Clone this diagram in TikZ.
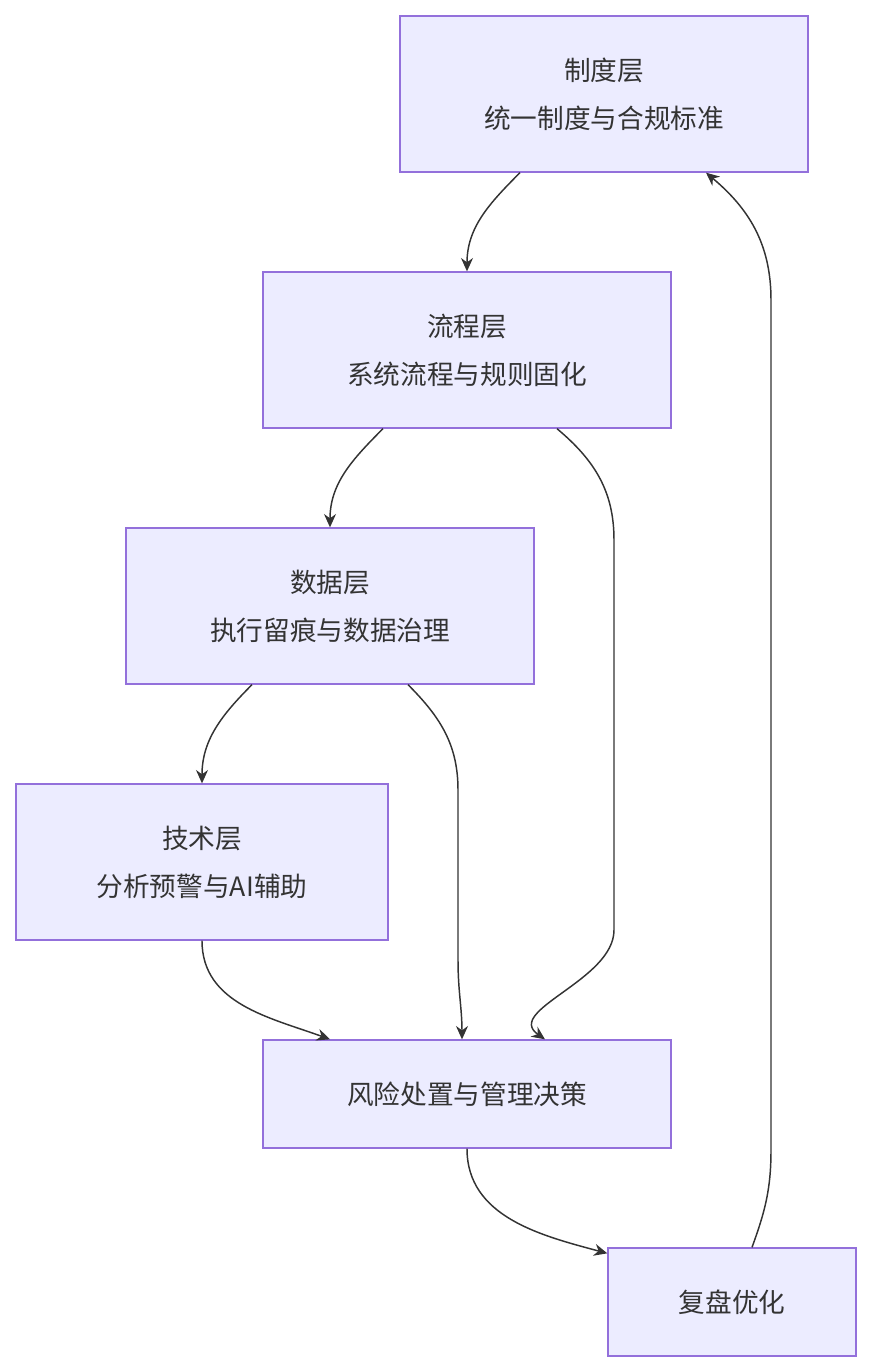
\documentclass[tikz,border=0pt]{standalone}
\usepackage{fontspec}
\setmainfont{Noto Sans CJK SC}
\usetikzlibrary{calc, arrows.meta}
\definecolor{boxfill}{HTML}{ECECFF}
\definecolor{boxline}{HTML}{9370DB}
\definecolor{edgecol}{HTML}{333333}
\tikzset{
	layer/.style = {draw = boxline, fill = boxfill, line width = 1pt, align = center,
		inner sep = 0pt, font = \fontsize{20}{36}\selectfont, text = edgecol},
	flow/.style = {draw = edgecol, line width = 1.1pt, -{Stealth[length = 10pt, width = 9pt]}}
}

\begin{document}
\begin{tikzpicture}[x = 0.75pt, y = -0.75pt]
		\useasboundingbox (0,0) rectangle (871,1372);

		\node [layer, minimum width = 306pt, minimum height = 117pt] (zhidu) at (604,94) {制度层\\统一制度与合规标准};
		\node [layer, minimum width = 306pt, minimum height = 117pt] (liucheng) at (467,350) {流程层\\系统流程与规则固化};
		\node [layer, minimum width = 306pt, minimum height = 117pt] (shuju) at (330,606) {数据层\\执行留痕与数据治理};
		\node [layer, minimum width = 279pt, minimum height = 117pt] (jishu) at (202,862) {技术层\\分析预警与AI辅助};
		\node [layer, minimum width = 306pt, minimum height = 81pt] (juece) at (467,1094) {风险处置与管理决策};
		\node [layer, minimum width = 186pt, minimum height = 81pt] (fupan) at (732,1302) {复盘优化};

		\draw [flow] ($(zhidu.south)+(-84,0)$) to [out = -135, in = 90] (liucheng.north);
		\draw [flow] ($(liucheng.south)+(-84,0)$) to [out = -135, in = 90] (shuju.north);
		\draw [flow] ($(liucheng.south)+(90,0)$) to [out = -40, in = 90] (614,540) -- (614,930) to [out = -90, in = 145] ($(juece.north)+(78,0)$);
		\draw [flow] ($(shuju.south)+(-78,0)$) to [out = -135, in = 90] (jishu.north);
		\draw [flow] ($(shuju.south)+(78,0)$) to [out = -45, in = 90] (458,790) -- (458,960) to [out = -90, in = 90] ($(juece.north)+(-5,0)$);
		\draw [flow] (jishu.south) to [out = -90, in = 160] ($(juece.north)+(-137,0)$);
		\draw [flow] (juece.south) to [out = -90, in = 165] ($(fupan.north west)+(0,6)$);
		\draw [flow] ($(fupan.north)+(20,0)$) to [out = 70, in = -90] (771,1150) -- (771,300) to [out = 90, in = -40] ($(zhidu.south)+(102,0)$);
	\end{tikzpicture}
\end{document}
